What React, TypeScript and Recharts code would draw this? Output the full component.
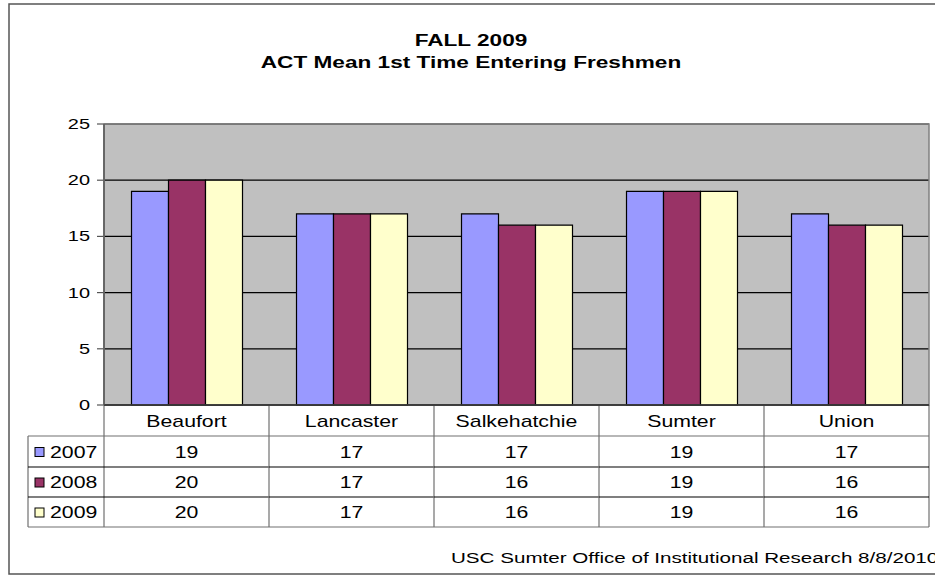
import React from 'react';
import { BarChart, Bar, XAxis, YAxis, CartesianGrid } from 'recharts';

const categories = ['Beaufort', 'Lancaster', 'Salkehatchie', 'Sumter', 'Union'];
const series2007 = [19, 17, 17, 19, 17];
const series2008 = [20, 17, 16, 19, 16];
const series2009 = [20, 17, 16, 19, 16];
const seriesNames = ['2007', '2008', '2009'];
const seriesColors = ['#9999FF', '#993366', '#FFFFCC'];
const yTicks = [0, 5, 10, 15, 20, 25];
const titleLines = ['FALL 2009', 'ACT Mean 1st Time Entering Freshmen'];
const footer = 'USC Sumter Office of Institutional Research 8/8/2010';

const data = categories.map((c, i) => ({
  name: c,
  s2007: series2007[i],
  s2008: series2008[i],
  s2009: series2009[i],
}));
const seriesKeys = ['s2007', 's2008', 's2009'];
const seriesValues = [series2007, series2008, series2009];

const W = 935;
const H = 576;
const PLOT_L = 104;
const PLOT_R = 929;
const PLOT_T = 124;
const PLOT_B = 405;
const ROWS = [405, 436, 467, 497, 527];
const LEG_L = 28;
const SX = 1.33;
const FONT = 'Arial, "Liberation Sans", sans-serif';

function SText({ x, y, anchor = 'middle', size = 16, bold = false, children }: any) {
  return (
    <text
      transform={`translate(${x},${y}) scale(${SX},1)`}
      x={0}
      y={0}
      textAnchor={anchor}
      fontSize={size}
      fontWeight={bold ? 'bold' : 'normal'}
      fontFamily={FONT}
      fill="#000"
    >
      {children}
    </text>
  );
}

function YTick(props: any) {
  const { x, y, payload } = props;
  return <SText x={x} y={y + 5} anchor="end" size={15}>{payload.value}</SText>;
}

function XTick(props: any) {
  const { x, index, payload } = props;
  const band = (PLOT_R - PLOT_L) / categories.length;
  const left = x - band / 2;
  const right = x + band / 2;
  const els: any[] = [];
  els.push(<line key="vl" x1={left} y1={ROWS[0]} x2={left} y2={ROWS[4]} stroke="#707070" strokeWidth={1.2} />);
  if (index === categories.length - 1) {
    els.push(<line key="vr" x1={right} y1={ROWS[0]} x2={right} y2={ROWS[4]} stroke="#707070" strokeWidth={1.2} />);
  }
  els.push(<line key="h1" x1={left} y1={ROWS[1]} x2={right} y2={ROWS[1]} stroke="#707070" strokeWidth={1.2} />);
  els.push(<line key="h2" x1={left} y1={ROWS[2]} x2={right} y2={ROWS[2]} stroke="#000" strokeWidth={1.2} />);
  els.push(<line key="h3" x1={left} y1={ROWS[3]} x2={right} y2={ROWS[3]} stroke="#000" strokeWidth={1.2} />);
  els.push(<line key="h4" x1={left} y1={ROWS[4]} x2={right} y2={ROWS[4]} stroke="#707070" strokeWidth={1.2} />);
  els.push(
    <SText key="cat" x={x} y={(ROWS[0] + ROWS[1]) / 2 + 6} size={16}>{payload.value}</SText>
  );
  seriesValues.forEach((vals, r) => {
    els.push(
      <SText key={'v' + r} x={x} y={(ROWS[r + 1] + ROWS[r + 2]) / 2 + 6} size={16}>
        {vals[index]}
      </SText>
    );
  });
  if (index === 0) {
    els.push(<line key="ll" x1={LEG_L} y1={ROWS[1]} x2={LEG_L} y2={ROWS[4]} stroke="#707070" strokeWidth={1.2} />);
    els.push(<line key="lt" x1={LEG_L} y1={ROWS[1]} x2={left} y2={ROWS[1]} stroke="#707070" strokeWidth={1.2} />);
    els.push(<line key="l2" x1={LEG_L} y1={ROWS[2]} x2={left} y2={ROWS[2]} stroke="#000" strokeWidth={1.2} />);
    els.push(<line key="l3" x1={LEG_L} y1={ROWS[3]} x2={left} y2={ROWS[3]} stroke="#000" strokeWidth={1.2} />);
    els.push(<line key="lb" x1={LEG_L} y1={ROWS[4]} x2={left} y2={ROWS[4]} stroke="#707070" strokeWidth={1.2} />);
    seriesNames.forEach((n, r) => {
      const cy = (ROWS[r + 1] + ROWS[r + 2]) / 2;
      els.push(
        <rect key={'sw' + r} x={35} y={cy - 4} width={9} height={9} fill={seriesColors[r]} stroke="#000" strokeWidth={1} />
      );
      els.push(
        <SText key={'ln' + r} x={50} y={cy + 6} anchor="start" size={16}>{n}</SText>
      );
    });
  }
  return <g>{els}</g>;
}

export default function App() {
  return (
    <div style={{ position: 'absolute', left: 0, top: 0, width: W, height: H, background: '#fff' }}>
      <BarChart
        width={W}
        height={H}
        data={data}
        margin={{ top: PLOT_T, right: W - PLOT_R, bottom: 0, left: 0 }}
        barCategoryGap="16.67%"
        barGap={0}
      >
        <CartesianGrid vertical={false} fill="#C0C0C0" fillOpacity={1} stroke="#000" strokeWidth={1.2} />
        <XAxis
          dataKey="name"
          height={H - PLOT_B}
          axisLine={false}
          tickLine={false}
          interval={0}
          tick={<XTick />}
        />
        <YAxis
          width={PLOT_L}
          domain={[0, 25]}
          ticks={yTicks}
          tickSize={7}
          tickMargin={7}
          axisLine={{ stroke: '#555', strokeWidth: 1.2 }}
          tickLine={{ stroke: '#555', strokeWidth: 1.2 }}
          tick={<YTick />}
          interval={0}
        />
        {seriesKeys.map((k, i) => (
          <Bar key={k} dataKey={k} fill={seriesColors[i]} stroke="#000" strokeWidth={1.2} isAnimationActive={false} />
        ))}
      </BarChart>
      <svg
        width={W}
        height={H}
        style={{ position: 'absolute', left: 0, top: 0, pointerEvents: 'none' }}
      >
        <rect x={9} y={4} width={935} height={570} fill="none" stroke="#555" strokeWidth={1.5} />
        <rect x={PLOT_L} y={PLOT_T} width={PLOT_R - PLOT_L} height={PLOT_B - PLOT_T} fill="none" stroke="#808080" strokeWidth={1.5} />
        <line x1={PLOT_L} y1={PLOT_B} x2={PLOT_R} y2={PLOT_B} stroke="#000" strokeWidth={1.2} />
        <line x1={PLOT_L} y1={PLOT_T} x2={PLOT_L} y2={PLOT_B} stroke="#555" strokeWidth={1.2} />
        <SText x={471} y={46} size={17} bold>{titleLines[0]}</SText>
        <SText x={471} y={68} size={17} bold>{titleLines[1]}</SText>
        <SText x={451} y={563} anchor="start" size={15.5}>{footer}</SText>
      </svg>
    </div>
  );
}
